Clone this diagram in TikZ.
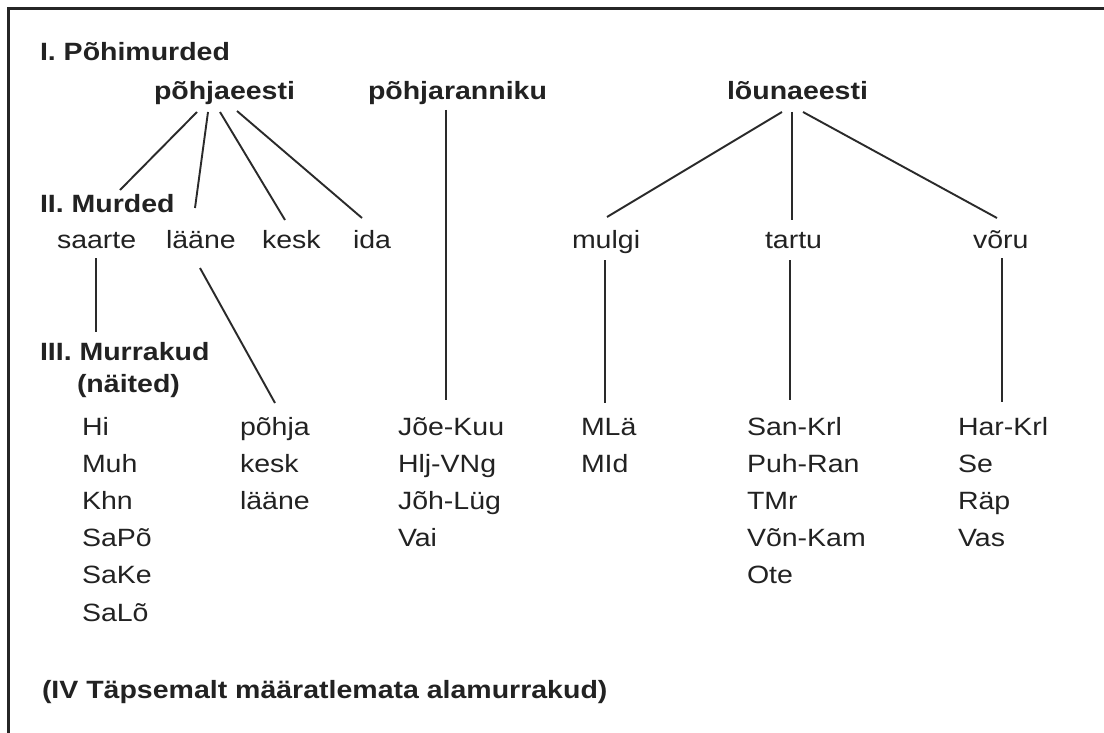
\documentclass[tikz,border=0pt]{standalone}
\usepackage{fontspec}
\setmainfont{Liberation Sans}[FakeStretch=1.14]
\usetikzlibrary{calc}
\definecolor{ink}{HTML}{222222}
\definecolor{lineink}{HTML}{2A2A2A}
\tikzset{
  lbl/.style={anchor=base west, inner sep=0pt, outer sep=0pt, text=ink, font=\fontsize{25}{29}\selectfont},
  head/.style={lbl, font=\fontsize{25}{29}\selectfont\bfseries},
  conn/.style={draw=lineink, line width=1.9pt},
  frame/.style={draw=black!85, line width=3pt}
}
\begin{document}
\begin{tikzpicture}[x=1pt,y=-1pt]
\useasboundingbox (0,0) rectangle (1104,733);
\fill[white] (0,0) rectangle (1104,733);
% frame (top and left only)
\coordinate (fr1) at (1104,9);
\coordinate (fr2) at (8,9);
\coordinate (fr3) at (8,733);
\draw[frame] (fr1) -- (fr2) -- (fr3);

% headings
\node[head] (t1) at (40,61) {I. Põhimurded};
\node[head] (t2) at (40,212) {II. Murded};
\node[head] (t3) at (40,360) {III. Murrakud};
\node[head] (t3b) at (77,392) {(näited)};
\node[head] (t4) at (42,698) {(IV Täpsemalt määratlemata alamurrakud)};

% main dialects
\node[head] (pe) at (154,100) {põhjaeesti};
\node[head] (pr) at (368,100) {põhjaranniku};
\node[head] (le) at (727,100) {lõunaeesti};

% dialects
\node[lbl] (saarte) at (57,248) {saarte};
\node[lbl] (laane) at (166,248) {lääne};
\node[lbl] (kesk) at (262,248) {kesk};
\node[lbl] (ida) at (353,248) {ida};
\node[lbl] (mulgi) at (572,248) {mulgi};
\node[lbl] (tartu) at (765,248) {tartu};
\node[lbl] (voru) at (973,248) {võru};

% sub-dialects
\def\ra{435}\def\rs{37.2}
\node[lbl] (hi) at (82,\ra) {Hi};
\node[lbl] (muh) at (82,\ra+\rs) {Muh};
\node[lbl] (khn) at (82,\ra+2*\rs) {Khn};
\node[lbl] (sapo) at (82,\ra+3*\rs) {SaPõ};
\node[lbl] (sake) at (82,\ra+4*\rs) {SaKe};
\node[lbl] (salo) at (82,\ra+5*\rs) {SaLõ};

\node[lbl] (lp) at (240,\ra) {põhja};
\node[lbl] (lk) at (240,\ra+\rs) {kesk};
\node[lbl] (ll) at (240,\ra+2*\rs) {lääne};

\node[lbl] (jk) at (398,\ra) {Jõe-Kuu};
\node[lbl] (hv) at (398,\ra+\rs) {Hlj-VNg};
\node[lbl] (jl) at (398,\ra+2*\rs) {Jõh-Lüg};
\node[lbl] (vai) at (398,\ra+3*\rs) {Vai};

\node[lbl] (mla) at (581,\ra) {MLä};
\node[lbl] (mid) at (581,\ra+\rs) {MId};

\node[lbl] (sk) at (747,\ra) {San-Krl};
\node[lbl] (pur) at (747,\ra+\rs) {Puh-Ran};
\node[lbl] (tmr) at (747,\ra+2*\rs) {TMr};
\node[lbl] (vk) at (747,\ra+3*\rs) {Võn-Kam};
\node[lbl] (ote) at (747,\ra+4*\rs) {Ote};

\node[lbl] (hk) at (958,\ra) {Har-Krl};
\node[lbl] (se) at (958,\ra+\rs) {Se};
\node[lbl] (rap) at (958,\ra+2*\rs) {Räp};
\node[lbl] (vas) at (958,\ra+3*\rs) {Vas};

% connectors
\draw[conn] ($(pe.base west)+(43,12)$) -- ($(saarte.base west)+(63,-58)$);
\draw[conn] ($(pe.base west)+(54,12)$) -- ($(laane.base west)+(29,-40)$);
\draw[conn] ($(pe.base west)+(66,12)$) -- ($(kesk.base west)+(23,-28)$);
\draw[conn] ($(pe.base west)+(83,11)$) -- ($(ida.base west)+(9,-30)$);
\draw[conn] ($(saarte.base west)+(39,10)$) -- ($(hi.base west)+(14,-103)$);
\draw[conn] ($(laane.base west)+(34,20)$) -- ($(lp.base west)+(35,-32)$);
\draw[conn] ($(pr.base west)+(78,10)$) -- ($(jk.base west)+(48,-35)$);
\draw[conn] ($(le.base west)+(55,12)$) -- ($(mulgi.base west)+(35,-31)$);
\draw[conn] ($(le.base west)+(65,12)$) -- ($(tartu.base west)+(27,-28)$);
\draw[conn] ($(le.base west)+(76,12)$) -- ($(voru.base west)+(24,-30)$);
\draw[conn] ($(mulgi.base west)+(33,12)$) -- ($(mla.base west)+(24,-32)$);
\draw[conn] ($(tartu.base west)+(25,12)$) -- ($(sk.base west)+(43,-35)$);
\draw[conn] ($(voru.base west)+(29,10)$) -- ($(hk.base west)+(44,-33)$);
\end{tikzpicture}
\end{document}
